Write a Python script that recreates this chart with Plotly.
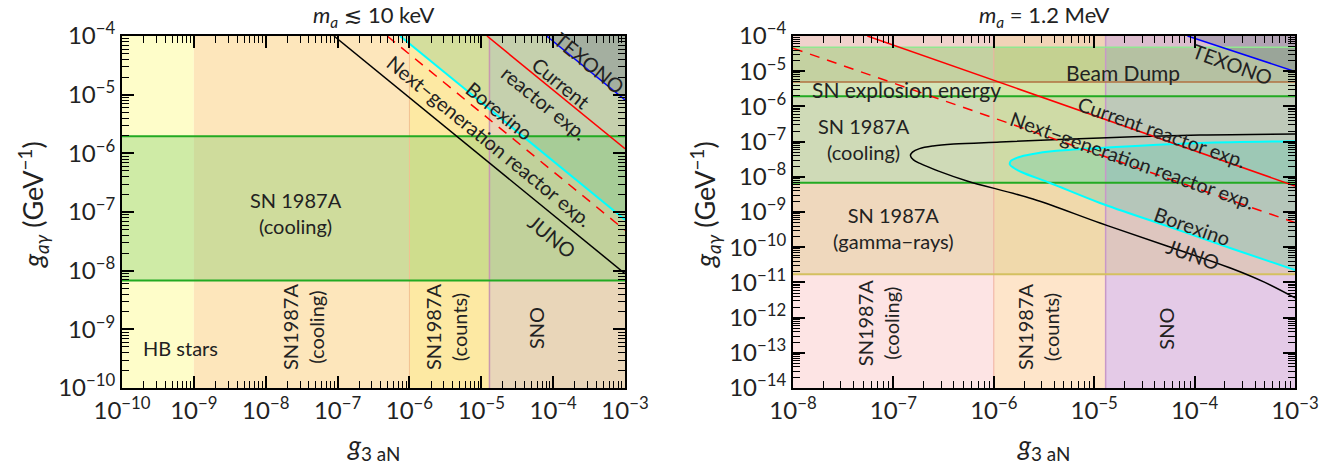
import plotly.graph_objects as go
import math

# ---------------- data ----------------
left_xticks = [1e-10, 1e-9, 1e-8, 1e-7, 1e-6, 1e-5, 1e-4, 1e-3]
left_xticklabels = ["10<sup>−10</sup>", "10<sup>−9</sup>", "10<sup>−8</sup>", "10<sup>−7</sup>",
                    "10<sup>−6</sup>", "10<sup>−5</sup>", "10<sup>−4</sup>", "10<sup>−3</sup>"]
left_yticks = [1e-10, 1e-9, 1e-8, 1e-7, 1e-6, 1e-5, 1e-4]
left_yticklabels = ["10<sup>−10</sup>", "10<sup>−9</sup>", "10<sup>−8</sup>", "10<sup>−7</sup>",
                    "10<sup>−6</sup>", "10<sup>−5</sup>", "10<sup>−4</sup>"]
right_xticks = [1e-8, 1e-7, 1e-6, 1e-5, 1e-4, 1e-3]
right_xticklabels = ["10<sup>−8</sup>", "10<sup>−7</sup>", "10<sup>−6</sup>", "10<sup>−5</sup>",
                     "10<sup>−4</sup>", "10<sup>−3</sup>"]
right_yticks = [1e-14, 1e-13, 1e-12, 1e-11, 1e-10, 1e-9, 1e-8, 1e-7, 1e-6, 1e-5, 1e-4]
right_yticklabels = ["10<sup>−14</sup>", "10<sup>−13</sup>", "10<sup>−12</sup>", "10<sup>−11</sup>",
                     "10<sup>−10</sup>", "10<sup>−9</sup>", "10<sup>−8</sup>", "10<sup>−7</sup>",
                     "10<sup>−6</sup>", "10<sup>−5</sup>", "10<sup>−4</sup>"]

left_xrange = [1e-10, 1e-3]
left_yrange = [1e-10, 1e-4]
right_xrange = [1e-8, 1e-3]
right_yrange = [1e-14, 1e-4]

# vertical (g3aN) exclusion bands
left_vband_edges = [1e-10, 1e-9, 1e-6, 1.3e-5, 1e-3]
left_vband_names = ["HB stars", "SN1987A (cooling)", "SN1987A (counts)", "SNO"]
right_vband_edges = [1e-8, 1e-6, 1.3e-5, 1e-3]
right_vband_names = ["SN1987A (cooling)", "SN1987A (counts)", "SNO"]

# horizontal (g_agamma) bands
sn_cooling_band = [6.8e-9, 1.95e-6]
gamma_rays_band = [1.7e-11, 6.8e-9]
explosion_band = [1.95e-6, 4.9e-6]
beam_dump_band = [4.9e-6, 4.8e-5]
top_band = [4.8e-5, 1e-4]

# left panel (m_a <~ 10 keV) lines: [x at top end, x at right end], [y ...]
L_juno_x, L_juno_y = [8.9e-8, 1e-3], [1e-4, 8.9e-9]
L_borexino_x, L_borexino_y = [7.4e-7, 1e-3], [1e-4, 7.4e-8]
L_nextgen_x, L_nextgen_y = [4.9e-7, 1e-3], [1e-4, 4.9e-8]
L_current_x, L_current_y = [1.2e-5, 1e-3], [1e-4, 1.2e-6]
L_texono_x, L_texono_y = [8.1e-5, 1e-3], [1e-4, 8.1e-6]

# right panel (m_a = 1.2 MeV) lines
R_current_x, R_current_y = [5.5e-8, 1e-3], [1e-4, 5.5e-9]
R_nextgen_x, R_nextgen_y = [1e-8, 1e-3], [4.5e-5, 5.0e-10]
R_texono_x, R_texono_y = [8.5e-5, 1e-3], [1e-4, 9.8e-6]
# JUNO curve (log10 values), upper branch from right edge to the nose, then lower branch
R_juno_logx = [-3.0, -3.946, -4.942, -5.938, -6.40, -6.606, -6.74, -6.81, -6.83, -6.80, -6.735,
               -6.55, -6.267, -5.610, -4.942, -4.275, -3.618, -3.3, -3.0]
R_juno_logy = [-6.784, -6.813, -6.898, -7.011, -7.07, -7.125, -7.20, -7.30, -7.40, -7.52, -7.62,
               -7.84, -8.119, -8.631, -9.313, -9.966, -10.619, -11.0, -11.44]
# Borexino closed contour (log10 values)
R_borex_logx = [-3.0, -3.946, -4.942, -5.40, -5.610, -5.76, -5.83, -5.84, -5.80, -5.72, -5.440,
                -4.942, -4.275, -3.618, -3.0]
R_borex_logy = [-6.991, -7.040, -7.182, -7.27, -7.352, -7.45, -7.55, -7.65, -7.75, -7.87, -8.176,
                -8.744, -9.398, -10.051, -10.648]

# ---------------- styles ----------------
FONT = "Lato, 'DejaVu Sans', sans-serif"
TXT = "#222222"
left_vband_colors = ["#fefdc9", "#fde6bb", "#fde9a3", "#e9d6b9"]
right_vband_colors = ["#fde4e4", "#fee5ca", "#e4cae7"]
green_fill = "rgba(120,200,100,0.35)"
green_line = "#22aa22"

fig = go.Figure()
shapes = []


def rect(x0, x1, y0, y1, color, xa, ya):
    shapes.append(dict(type="rect", xref=xa, yref=ya, x0=x0, x1=x1, y0=y0, y1=y1,
                       fillcolor=color, line=dict(width=0), layer="below"))


def hline(y, x0, x1, color, width, xa, ya):
    fig.add_trace(go.Scatter(x=[x0, x1], y=[y, y], mode="lines", line=dict(color=color, width=width),
                             xaxis=xa, yaxis=ya, hoverinfo="skip", showlegend=False))


def vline(x, y0, y1, color, width, xa, ya):
    fig.add_trace(go.Scatter(x=[x, x], y=[y0, y1], mode="lines", line=dict(color=color, width=width),
                             xaxis=xa, yaxis=ya, hoverinfo="skip", showlegend=False))


def line(xs, ys, color, width, xa, ya, dash=None, shape="linear"):
    fig.add_trace(go.Scatter(x=xs, y=ys, mode="lines",
                             line=dict(color=color, width=width, dash=dash, shape=shape),
                             xaxis=xa, yaxis=ya, hoverinfo="skip", showlegend=False))


def poly(xs, ys, color, xa, ya, shape="linear"):
    fig.add_trace(go.Scatter(x=xs, y=ys, mode="lines", line=dict(width=0, shape=shape), fill="toself",
                             fillcolor=color, xaxis=xa, yaxis=ya, hoverinfo="skip", showlegend=False))


# ---- left panel ----
for i, c in enumerate(left_vband_colors):
    rect(left_vband_edges[i], left_vband_edges[i + 1], left_yrange[0], left_yrange[1], c, "x", "y")
rect(left_xrange[0], left_xrange[1], sn_cooling_band[0], sn_cooling_band[1], green_fill, "x", "y")
poly([L_borexino_x[0], L_borexino_x[1], left_xrange[1], L_borexino_x[0]],
     [L_borexino_y[0], L_borexino_y[1], left_yrange[1], L_borexino_y[0]],
     "rgba(90,190,140,0.25)", "x", "y")
poly([L_texono_x[0], L_texono_x[1], left_xrange[1], L_texono_x[0]],
     [L_texono_y[0], L_texono_y[1], left_yrange[1], L_texono_y[0]],
     "rgba(110,120,140,0.38)", "x", "y")
vline(left_vband_edges[2], left_yrange[0], left_yrange[1], "#f2c090", 1, "x", "y")
vline(left_vband_edges[3], left_yrange[0], left_yrange[1], "#c898b0", 1.5, "x", "y")
hline(sn_cooling_band[0], left_xrange[0], left_xrange[1], green_line, 2, "x", "y")
hline(sn_cooling_band[1], left_xrange[0], left_xrange[1], green_line, 2, "x", "y")
line(L_juno_x, L_juno_y, "black", 1.5, "x", "y")
line(L_nextgen_x, L_nextgen_y, "#ff0000", 1.5, "x", "y", dash="10px,8px")
line(L_borexino_x, L_borexino_y, "#00ffff", 2, "x", "y")
line(L_current_x, L_current_y, "#ff0000", 1.5, "x", "y")
line(L_texono_x, L_texono_y, "#0000ff", 1.5, "x", "y")

# ---- right panel ----
for i, c in enumerate(right_vband_colors):
    rect(right_vband_edges[i], right_vband_edges[i + 1], right_yrange[0], right_yrange[1], c, "x2", "y2")
rect(right_xrange[0], right_xrange[1], gamma_rays_band[0], gamma_rays_band[1], "rgba(210,190,100,0.30)", "x2", "y2")
rect(right_xrange[0], right_xrange[1], sn_cooling_band[0], sn_cooling_band[1], green_fill, "x2", "y2")
rect(right_xrange[0], right_xrange[1], explosion_band[0], explosion_band[1], "rgba(150,230,120,0.40)", "x2", "y2")
rect(right_xrange[0], right_xrange[1], beam_dump_band[0], beam_dump_band[1], "rgba(110,180,60,0.40)", "x2", "y2")
rect(right_xrange[0], right_xrange[1], top_band[0], top_band[1], "rgba(190,140,110,0.20)", "x2", "y2")
poly([10 ** v for v in R_borex_logx], [10 ** v for v in R_borex_logy], "rgba(60,200,170,0.25)", "x2", "y2",
     shape="spline")
poly([R_texono_x[0], R_texono_x[1], right_xrange[1], R_texono_x[0]],
     [R_texono_y[0], R_texono_y[1], right_yrange[1], R_texono_y[0]],
     "rgba(110,120,140,0.38)", "x2", "y2")
vline(right_vband_edges[1], right_yrange[0], right_yrange[1], "#f0b0a0", 1, "x2", "y2")
vline(right_vband_edges[2], right_yrange[0], right_yrange[1], "#c898c8", 1.5, "x2", "y2")
hline(gamma_rays_band[0], right_xrange[0], right_xrange[1], "#d4c060", 2, "x2", "y2")
hline(sn_cooling_band[0], right_xrange[0], right_xrange[1], green_line, 2, "x2", "y2")
hline(sn_cooling_band[1], right_xrange[0], right_xrange[1], green_line, 2, "x2", "y2")
hline(beam_dump_band[0], right_xrange[0], right_xrange[1], "#b07040", 1.5, "x2", "y2")
hline(beam_dump_band[1], right_xrange[0], right_xrange[1], "#90e890", 1.5, "x2", "y2")
line([10 ** v for v in R_juno_logx], [10 ** v for v in R_juno_logy], "black", 1.5, "x2", "y2", shape="spline")
line([10 ** v for v in R_borex_logx], [10 ** v for v in R_borex_logy], "#00ffff", 2, "x2", "y2", shape="spline")
line(R_nextgen_x, R_nextgen_y, "#ff0000", 1.5, "x2", "y2", dash="10px,8px")
line(R_current_x, R_current_y, "#ff0000", 1.5, "x2", "y2")
line(R_texono_x, R_texono_y, "#0000ff", 1.5, "x2", "y2")

# ---------------- axes ----------------
W, H = 1344, 468
M = 20                      # uniform page margin
PW, PH = W - 2 * M, H - 2 * M
L_px = (122, 625)
R_px = (793, 1295)
Y_px = (36, 388)
ydom = [1 - (Y_px[1] - M) / PH, 1 - (Y_px[0] - M) / PH]


def axis(dom, rng, tv, tt, anchor):
    return dict(type="log", domain=dom, range=[math.log10(rng[0]), math.log10(rng[1])], anchor=anchor,
                showline=True, linewidth=2, linecolor="#000000", mirror="ticks", automargin=False,
                layer="above traces",
                ticks="inside", ticklen=12, tickwidth=2, tickcolor="#000000",
                tickmode="array", tickvals=tv, ticktext=tt,
                tickfont=dict(family=FONT, size=24, color=TXT),
                showgrid=False, zeroline=False,
                minor=dict(ticks="inside", ticklen=7, tickwidth=1.3, tickcolor="#000000",
                           dtick="D1", showgrid=False))


xdomL = [(L_px[0] - M) / PW, (L_px[1] - M) / PW]
xdomR = [(R_px[0] - M) / PW, (R_px[1] - M) / PW]
fig.update_layout(
    width=W, height=H, margin=dict(l=M, r=M, t=M, b=M),
    paper_bgcolor="white", plot_bgcolor="white", showlegend=False,
    xaxis=axis(xdomL, left_xrange, left_xticks, left_xticklabels, "y"),
    yaxis=axis(ydom, left_yrange, left_yticks, left_yticklabels, "x"),
    xaxis2=axis(xdomR, right_xrange, right_xticks, right_xticklabels, "y2"),
    yaxis2=axis(ydom, right_yrange, right_yticks, right_yticklabels, "x2"),
    shapes=shapes,
)

ann = []


def txt(x, y, s, xr, yr, size=20, angle=0):
    ann.append(dict(x=x, y=y, xref=xr, yref=yr, text=s, showarrow=False, textangle=angle,
                    font=dict(family=FONT, size=size, color=TXT), align="center"))


# left panel labels (log10 positions)
txt(-9.19, -9.32, "HB stars", "x", "y")
txt(-7.58, -7.02, "SN 1987A<br>(cooling)", "x", "y")
txt(-7.48, -8.96, "SN1987A<br>(cooling)", "x", "y", angle=-90)
txt(-5.49, -8.96, "SN1987A<br>(counts)", "x", "y", angle=-90)
txt(-4.24, -8.98, "SNO", "x", "y", angle=-90)
txt(-4.88, -5.79, "Next−generation reactor exp.", "x", "y", angle=39.2)
txt(-4.74, -5.28, "Borexino", "x", "y", angle=39.2)
txt(-4.00, -4.97, "Current<br>reactor exp.", "x", "y", angle=39.2)
txt(-3.49, -4.46, "TEXONO", "x", "y", angle=39.2)
txt(-4.02, -7.41, "JUNO", "x", "y", angle=39.2)

# right panel labels
txt(-4.71, -5.05, "Beam Dump", "x2", "y2", size=21)
txt(-6.87, -5.53, "SN explosion energy", "x2", "y2", size=21)
txt(-7.29, -6.93, "SN 1987A<br>(cooling)", "x2", "y2")
txt(-7.0, -9.45, "SN 1987A<br>(gamma−rays)", "x2", "y2")
txt(-4.32, -6.73, "Current reactor exp.", "x2", "y2", angle=19.3)
txt(-4.62, -7.52, "Next−generation reactor exp.", "x2", "y2", angle=19.3)
txt(-4.02, -9.40, "Borexino", "x2", "y2", angle=19.3)
txt(-4.02, -10.19, "JUNO", "x2", "y2", angle=19.3)
txt(-3.62, -4.80, "TEXONO", "x2", "y2", angle=20)
txt(-7.15, -12.15, "SN1987A<br>(cooling)", "x2", "y2", angle=-90)
txt(-5.56, -12.24, "SN1987A<br>(counts)", "x2", "y2", angle=-90)
txt(-4.28, -12.30, "SNO", "x2", "y2", angle=-90)


def ptxt(px, py, s, size=21, angle=0):
    ann.append(dict(x=(px - M) / PW, y=1 - (py - M) / PH, xref="paper", yref="paper", text=s,
                    showarrow=False, textangle=angle, font=dict(family=FONT, size=size, color=TXT),
                    xanchor="center", yanchor="middle"))


ptxt((L_px[0] + L_px[1]) / 2, 16, "<i>m<sub>a</sub></i> ≲ 10 keV", size=22)
ptxt((R_px[0] + R_px[1]) / 2, 16, "<i>m<sub>a</sub></i> = 1.2 MeV", size=22)
ptxt((L_px[0] + L_px[1]) / 2, 446, "<i>g</i><sub>3 aN</sub>", size=27)
ptxt((R_px[0] + R_px[1]) / 2, 446, "<i>g</i><sub>3 aN</sub>", size=27)
ptxt(33, 205, "<i>g<sub>aγ</sub></i> (GeV<sup>−1</sup>)", size=27, angle=-90)
ptxt(705, 205, "<i>g<sub>aγ</sub></i> (GeV<sup>−1</sup>)", size=27, angle=-90)

fig.update_layout(annotations=ann)
fig.write_html("out.html")
